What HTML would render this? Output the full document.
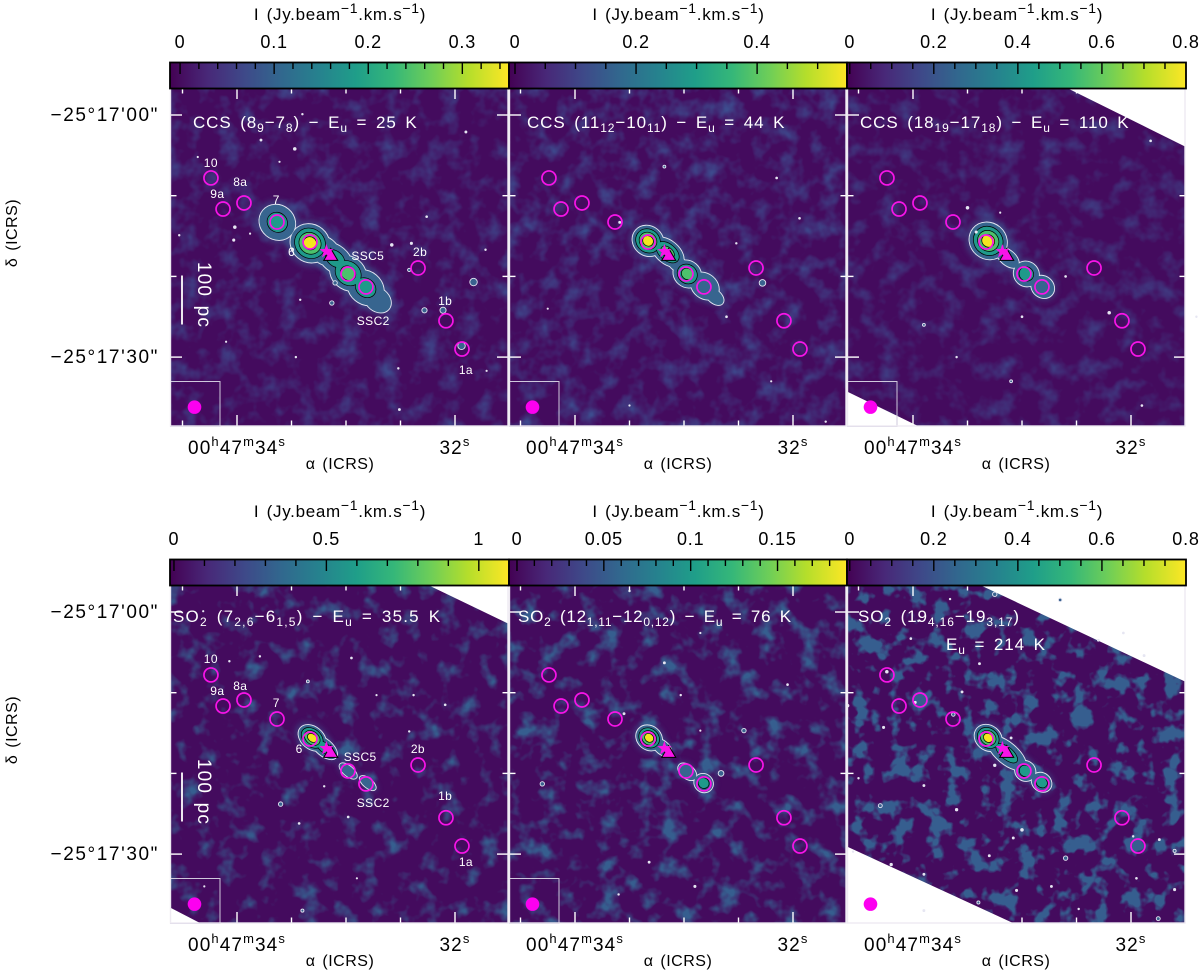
<!DOCTYPE html>
<html lang="en">
<head>
<meta charset="utf-8">
<title>CCS and SO2 integrated intensity maps</title>
<style>
html,body{margin:0;padding:0;background:#fff}
svg{display:block}
text{font-family:"Liberation Sans",sans-serif}
</style>
</head>
<body>
<svg id="figure" xmlns="http://www.w3.org/2000/svg" width="1200" height="970" viewBox="0 0 1200 970">
<defs id="defs">
<linearGradient id="viridis" x1="0" x2="1" y1="0" y2="0">
<stop offset="0" stop-color="#440154"/><stop offset=".11" stop-color="#482878"/><stop offset=".22" stop-color="#3e4989"/><stop offset=".33" stop-color="#31688e"/><stop offset=".44" stop-color="#26828e"/><stop offset=".55" stop-color="#1f9e89"/><stop offset=".66" stop-color="#35b779"/><stop offset=".77" stop-color="#6ece58"/><stop offset=".88" stop-color="#b5de2b"/><stop offset="1" stop-color="#fde725"/>
</linearGradient>
<filter id="halo" x="-50%" y="-50%" width="200%" height="200%"><feGaussianBlur stdDeviation="3"/></filter>
</defs>
<g id="maps"></g>
<g id="overlay"></g>

<g fill="#fff" font-size="17" letter-spacing="0.9" word-spacing="3">
<text x="193" y="128">CCS (8<tspan dy="4" font-size="12">9</tspan><tspan dy="-4">−7</tspan><tspan dy="4" font-size="12">8</tspan><tspan dy="-4">) − E</tspan><tspan dy="4" font-size="12">u</tspan><tspan dy="-4"> = 25 K</tspan></text>
<text x="527" y="128">CCS (11<tspan dy="4" font-size="12">12</tspan><tspan dy="-4">−10</tspan><tspan dy="4" font-size="12">11</tspan><tspan dy="-4">) − E</tspan><tspan dy="4" font-size="12">u</tspan><tspan dy="-4"> = 44 K</tspan></text>
<text x="860" y="128">CCS (18<tspan dy="4" font-size="12">19</tspan><tspan dy="-4">−17</tspan><tspan dy="4" font-size="12">18</tspan><tspan dy="-4">) − E</tspan><tspan dy="4" font-size="12">u</tspan><tspan dy="-4"> = 110 K</tspan></text>
<text x="173" y="622" letter-spacing="1.2">SO<tspan dy="4" font-size="12">2</tspan><tspan dy="-4"> (7</tspan><tspan dy="4" font-size="12">2,6</tspan><tspan dy="-4">−6</tspan><tspan dy="4" font-size="12">1,5</tspan><tspan dy="-4">) − E</tspan><tspan dy="4" font-size="12">u</tspan><tspan dy="-4"> = 35.5 K</tspan></text>
<text x="518" y="622" letter-spacing="0.75">SO<tspan dy="4" font-size="12">2</tspan><tspan dy="-4"> (12</tspan><tspan dy="4" font-size="12">1,11</tspan><tspan dy="-4">−12</tspan><tspan dy="4" font-size="12">0,12</tspan><tspan dy="-4">) − E</tspan><tspan dy="4" font-size="12">u</tspan><tspan dy="-4"> = 76 K</tspan></text>
<text x="858" y="622">SO<tspan dy="4" font-size="12">2</tspan><tspan dy="-4"> (19</tspan><tspan dy="4" font-size="12">4,16</tspan><tspan dy="-4">−19</tspan><tspan dy="4" font-size="12">3,17</tspan><tspan dy="-4">)</tspan></text>
<text x="946" y="650">E<tspan dy="4" font-size="12">u</tspan><tspan dy="-4"> = 214 K</tspan></text>
</g>
</svg>

<script>
// ---- colour-bar data ----
const barMin = [-0.0107, -0.0099, -0.0065, -0.013, -0.0046, -0.0065];
const barMax = [0.3496, 0.5485, 0.8, 1.099, 0.19, 0.8];
const barMajor = [[0, 0.1, 0.2, 0.3], [0, 0.2, 0.4], [0, 0.2, 0.4, 0.6, 0.8], [0, 0.5, 1], [0, 0.05, 0.1, 0.15], [0, 0.2, 0.4, 0.6, 0.8]];
const barMajorLabels = [['0', '0.1', '0.2', '0.3'], ['0', '0.2', '0.4'], ['0', '0.2', '0.4', '0.6', '0.8'], ['0', '0.5', '1'], ['0', '0.05', '0.1', '0.15'], ['0', '0.2', '0.4', '0.6', '0.8']];
const barMinorStep = [0.02, 0.05, 0.05, 0.1, 0.01, 0.05];

// ---- sky axes ----
const raMajor = [34, 32];
const raMinor = [34.5, 33.5, 33, 32.5];
const decMajor = [0, 30];
const decMinor = [10, 20];

// ---- source catalogue (RA seconds past 00h47m, Dec arcsec past -25d17m) ----
const sourceNames = ['10', '9a', '8a', '7', '6', 'SSC5', 'SSC2', '2b', '1b', '1a'];
const sourceRa = [34.239, 34.128, 33.936, 33.633, 33.33, 32.982, 32.817, 32.339, 32.083, 31.936];
const sourceDec = [7.8, 11.65, 10.9, 13.26, 15.74, 19.7, 21.3, 18.96, 25.5, 29.0];
const labelRaTop = [34.24, 34.18, 33.97, 33.64, 33.5, 32.8, 32.75, 32.32, 32.09, 31.9];
const labelDecTop = [6.44, 10.29, 8.8, 11.03, 17.47, 17.97, 26.02, 17.47, 23.54, 32.09];
const labelRaBottom = [34.24, 34.18, 33.97, 33.64, 33.43, 32.87, 32.75, 32.34, 32.09, 31.9];
const labelDecBottom = [6.3, 10.29, 9.67, 11.77, 17.47, 18.46, 24.16, 17.47, 23.3, 31.47];
const starRa = 33.18;
const starDec = 16.9;
const triangleRa = 33.14;
const triangleDec = 17.4;

// ---- emission clumps per panel: [RA s, Dec ", major ", minor ", peak contour level] ----
const clumpsCcs8 = [[33.63, 13.3, 2.3, 2.1, 1], [33.33, 15.9, 2.5, 2.3, 3], [33.2, 16.8, 2.2, 1.6, 0], [33.1, 17.8, 2.4, 1.6, 1], [32.98, 19.6, 2.4, 2.0, 2], [32.82, 21.4, 2.4, 2.0, 1], [32.71, 22.9, 1.8, 1.4, 0]];
const clumpsCcs11 = [[33.33, 15.6, 2.0, 1.8, 3], [33.15, 17.0, 2.3, 1.4, 2], [32.97, 19.7, 1.8, 1.6, 2], [32.81, 21.2, 1.9, 1.5, 0], [32.72, 22.5, 1.3, 0.8, 0], [33.06, 18.4, 1.6, 0.9, 0]];
const clumpsCcs18 = [[33.31, 15.6, 2.4, 2.2, 3], [33.13, 17.7, 1.6, 0.9, 0], [32.96, 19.7, 1.6, 1.5, 1], [32.81, 21.3, 1.5, 1.3, 0]];
const clumpsSo27 = [[33.31, 15.6, 1.9, 1.35, 3], [33.2, 16.8, 1.9, 1.0, 1], [32.98, 19.7, 1.3, 0.6, 0], [32.8, 21.2, 1.2, 0.55, 0]];
const clumpsSo212 = [[33.32, 15.6, 1.7, 1.45, 3], [33.2, 16.8, 1.3, 0.8, 0], [32.97, 19.8, 1.3, 0.8, 0], [32.82, 21.2, 1.2, 1.1, 1]];
const clumpsSo219 = [[33.31, 15.6, 1.8, 1.5, 3], [33.14, 17.5, 2.9, 1.3, 1], [32.97, 19.7, 1.3, 1.2, 1], [32.82, 21.1, 1.3, 1.1, 1]];

// ---- small isolated contours per panel: [RA s, Dec ", size] ----
const specksCcs8 = [[33.4, -0.1, 0.7], [33.78, 3.1, 0.9], [33.47, 4.2, 1.2], [33.61, 5.8, 0.6], [34.36, 5.2, 0.6], [31.9, 2.1, 0.9], [32.26, 12.6, 0.8], [34.53, 14.9, 0.7], [34.02, 13.9, 1.2], [34.03, 15.5, 1], [33.88, 14.7, 0.6], [33.49, 16.7, 1], [32.58, 16.1, 1.2], [32.4, 15.9, 1], [31.72, 16.7, 0.7], [33.1, 20.8, 2], [33.13, 23.3, 2], [33.42, 22.9, 0.7], [34.1, 28.1, 0.6], [33.46, 30, 0.7], [32.52, 31.4, 0.7], [32.51, 36.5, 0.9], [31.71, 31.7, 0.6], [31.83, 20.7, 3.4], [32.28, 24.2, 2.4], [32.11, 24.2, 2.8], [31.94, 28.6, 3.4], [32.42, 19.2, 1.5]];
const specksCcs11 = [[33.18, 6.4, 1.3], [32.15, 7.8, 0.8], [32.61, 25, 0.8], [32.28, 20.8, 3], [33.59, 13.3, 0.9], [31.94, 12.8, 0.8], [32.52, 15.9, 0.7], [34.25, 24, 0.6], [33.5, 36, 0.6], [31.7, 38, 0.7], [32.2, 33, 0.6]];
const specksCcs18 = [[33.5, 11.5, 1.2], [33.2, 12.1, 0.6], [32.6, 20, 0.8], [33.9, 26, 1.3], [33.1, 33, 1.3], [33.0, 25, 0.8], [32.2, 24.5, 1.2], [31.9, 36, 0.8], [33.6, 30, 0.7], [31.4, 25, 0.7], [33.42, 14.5, 1], [31.82, 3.2, 0.8]];
const specksSo27 = [[34.31, -0.1, 0.6], [34.07, 6.1, 0.7], [33.79, 5.5, 0.7], [33.35, 8.6, 1.3], [32.95, 5.7, 0.8], [32.72, 10.3, 0.6], [32.38, 10.3, 0.7], [32.09, 11.5, 0.8], [33.2, 21.6, 0.7], [33.6, 23.8, 2], [33.43, 26.2, 0.8], [32.98, 25.4, 0.8], [32.42, 14.8, 0.7], [33.4, 37, 1.4], [32.9, 33, 0.6], [34.3, 34, 0.6]];
const specksSo212 = [[33.5, -2.6, 0.7], [32.85, 2.6, 0.6], [33.18, 6.3, 0.9], [33.03, 10.3, 0.7], [33.55, 12.6, 0.9], [32.85, 14.7, 0.6], [32.45, 14.7, 2], [32.66, 20.0, 2.6], [34.3, 21.3, 2], [33.32, 31, 0.9], [32.9, 34, 1], [33.6, 35, 0.7], [32.05, 9, 0.8]];
const specksSo219 = [[33.25, -2.2, 2], [32.65, -1.5, 1.6], [33.66, -1.6, 0.7], [33.95, 1.1, 0.7], [34.02, 3.3, 0.8], [32.3, 3.5, 0.8], [32.07, 2.6, 0.8], [31.88, 5.4, 0.9], [34.24, 7.4, 1.2], [33.39, 6.4, 0.9], [33.98, 11.2, 1], [34.6, 11.6, 1.2], [33.63, 12.7, 1.6], [34.27, 14.3, 1], [33.1, 15.6, 0.9], [33.55, 9.9, 0.9], [34.3, 24, 1.8], [33.9, 21.5, 0.9], [34.5, 20.6, 0.7], [33.25, 19, 1.1], [33.6, 24.5, 1.1], [33.0, 27, 1.2], [33.08, 28, 0.9], [32.73, 34, 0.9], [32.6, 30.5, 2], [34.55, 29.7, 0.7], [34.2, 31.3, 1.1], [33.9, 32.5, 0.9], [33.3, 30.2, 0.9], [33.05, 34.5, 1], [31.98, 27.8, 0.7], [31.74, 28.2, 0.9], [31.6, 29.6, 1.4], [31.95, 33, 0.8], [31.75, 38, 1.8], [31.6, 34.4, 1], [32.48, 36.8, 0.7], [33.4, 36, 1.4], [33.9, 37, 0.9]];

// ---- panel furniture ----
const hasBeamBox = [true, true, true, true, true, false];
const beamRa = 34.39;
const beamDec = 36.2;

// ---- background emission texture parameters ----
const cloudSeed = [4, 9, 15, 22, 31, 40];
const cloudFreq = [0.05, 0.05, 0.05, 0.05, 0.05, 0.055];
const cloudGain = [2, 2.2, 1.8, 3, 3.5, 6.5];
const cloudCut = [0.46, 0.44, 0.46, 0.52, 0.49, 0.51];
const panelNames = ['ccs-8-7', 'ccs-11-10', 'ccs-18-17', 'so2-7-6', 'so2-12-12', 'so2-19-19'];
const panelClumps = [clumpsCcs8, clumpsCcs11, clumpsCcs18, clumpsSo27, clumpsSo212, clumpsSo219];
const panelSpecks = [specksCcs8, specksCcs11, specksCcs18, specksSo27, specksSo212, specksSo219];

// ---- layout ----
const colShift = [0, 338, 676];
const rowShift = [0, 497];
const levelFill = ['#37658f', '#1f9a8a', '#4cc26c', '#f4e61e'];
const SVGNS = 'http://www.w3.org/2000/svg';
const mapsLayer = document.getElementById('maps');
const overlayLayer = document.getElementById('overlay');
const defsEl = document.getElementById('defs');

function xOf(ra, col) { return 237 + (34 - ra) * 109 + colShift[col]; }
function yOf(dec, row) { return 115 + dec * 8.07 + rowShift[row]; }
function barX(v, p, left, right) { return left + (v - barMin[p]) / (barMax[p] - barMin[p]) * (right - left); }
function make(tag, attrs, parent) {
  const el = document.createElementNS(SVGNS, tag);
  for (const k in attrs) el.setAttribute(k, attrs[k]);
  parent.appendChild(el);
  return el;
}
function label(x, y, html, size, anchor, parent) {
  const el = make('text', { x: x, y: y, 'font-size': size, 'text-anchor': anchor, fill: '#000' }, parent);
  el.innerHTML = html;
  return el;
}

for (let p = 0; p < 6; p++) {
  const col = p % 3;
  const row = p < 3 ? 0 : 1;
  const dx = colShift[col];
  const dy = rowShift[row];
  const left = [171, 510, 848][col];
  const right = [508, 846, 1185][col];
  const top = 88 + dy;
  const bottom = 426 + dy;

  const panel = make('g', {}, mapsLayer);
  
  

  // background
  const bg = make('rect', { x: left, y: top, width: right - left, height: bottom - top, fill: '#440b5e' }, panel);
  
  

  // diffuse cloud texture
  const cloudColor = p >= 3 ? '0 0 0 0 0.21  0 0 0 0 0.37  0 0 0 0 0.56' : '0 0 0 0 0.24  0 0 0 0 0.30  0 0 0 0 0.56';
  const filt = make('filter', { id: 'cloud' + p, x: 0, y: 0, width: 1, height: 1, 'color-interpolation-filters': 'sRGB' }, defsEl);
  filt.innerHTML = '<feTurbulence type="fractalNoise" baseFrequency="' + cloudFreq[p] + '" numOctaves="3" seed="' + cloudSeed[p] + '"/>' +
    '<feColorMatrix type="matrix" values="' + cloudColor + '  ' + cloudGain[p] + ' 0 0 0 ' + (-cloudGain[p] * cloudCut[p]) + '"/>';
  const cloud = make('rect', { x: left, y: top, width: right - left, height: bottom - top, fill: '#000', filter: 'url(#cloud' + p + ')' }, panel);
  
  

  // unobserved sky
  const masks = [];
  if (p === 2) { masks.push('1067,88 1186,147 1186,88', '848,392 848,427 920,427'); }
  if (p === 3) { masks.push('428,585 509,624 509,585', '171,908 171,923 200,923'); }
  if (p === 5) { masks.push('980,585 1186,682 1186,585', '848,847 848,923 1013,923'); }
  masks.forEach(function (pts) {
    const m = make('polygon', { points: pts, fill: '#fff' }, panel);
    
    
  });

  // emission clumps from the panel's clump table
  const clumps = panelClumps[p];
  const drawLevel = function (level, parent, extra, scaleBoost) {
    clumps.forEach(function (c) {
      if (c[4] < level) return;
      const s = (1 - 0.9 * level / (c[4] + 1)) * scaleBoost;
      const cx = xOf(c[0], col);
      const cy = yOf(c[1], row);
      const a = { cx: cx, cy: cy, rx: c[2] * 8.07 * s, ry: c[3] * 8.07 * s, transform: 'rotate(40 ' + cx + ' ' + cy + ')' };
      for (const k in extra) a[k] = extra[k];
      const e = make('ellipse', a, parent);
      
      
    });
  };
  drawLevel(0, panel, { fill: '#3b5a90', opacity: 0.55, filter: 'url(#halo)' }, 1.25);
  drawLevel(0, panel, { fill: 'none', stroke: '#e6e6f2', 'stroke-width': 1.8 }, 1);
  drawLevel(0, panel, { fill: levelFill[0] }, 1);
  for (let lev = 1; lev <= 3; lev++) {
    drawLevel(lev, panel, { fill: 'none', stroke: '#000', 'stroke-width': 1.4 }, 1);
    drawLevel(lev, panel, { fill: levelFill[lev] }, 1);
  }

  // isolated small contours
  panelSpecks[p].forEach(function (s) {
    const sp = make('circle', { cx: xOf(s[0], col), cy: yOf(s[1], row), r: s[2] * 1.1, fill: s[2] < 1.3 ? '#e6e6f2' : '#39628f', stroke: '#e6e6f2', 'stroke-width': 0.9 }, panel);
    
    
  });

  // source circles
  sourceNames.forEach(function (name, i) {
    const c = make('circle', { cx: xOf(sourceRa[i], col), cy: yOf(sourceDec[i], row), r: 7, fill: 'none', stroke: '#f814e8', 'stroke-width': 1.7 }, panel);
    
    
  });

  // star + triangle markers
  const sx = xOf(starRa, col);
  const sy = yOf(starDec, row);
  const tx = xOf(triangleRa, col);
  const ty = yOf(triangleDec, row);
  const tri = make('polygon', { points: (tx) + ',' + (ty - 7) + ' ' + (tx + 7) + ',' + (ty + 5) + ' ' + (tx - 7) + ',' + (ty + 5), fill: '#f814e8', stroke: '#000', 'stroke-width': 1 }, panel);
  
  
  let starPts = '';
  for (let k = 0; k < 10; k++) {
    const rad = k % 2 ? 3 : 7.5;
    const ang = -Math.PI / 2 + k * Math.PI / 5;
    starPts += (sx + rad * Math.cos(ang)) + ',' + (sy + rad * Math.sin(ang)) + ' ';
  }
  const star = make('polygon', { points: starPts, fill: '#f814e8' }, panel);
  
  

  // beam
  if (hasBeamBox[p]) {
    const box = make('rect', { x: left - 0.5, y: 381.5 + dy, width: 49.5, height: 45, fill: 'none', stroke: '#cfc8dc', 'stroke-width': 1 }, panel);
    
    
  }
  const beam = make('circle', { cx: xOf(beamRa, col), cy: yOf(beamDec, row), r: 6.8, fill: '#fc00f0' }, panel);
  
  

  // source name labels on the left-hand panels
  if (col === 0) {
    const lr = row === 0 ? labelRaTop : labelRaBottom;
    const ld = row === 0 ? labelDecTop : labelDecBottom;
    sourceNames.forEach(function (name, i) {
      const t = label(xOf(lr[i], col), yOf(ld[i], row), name, 12, 'middle', panel);
      t.setAttribute('fill', '#fff');
      t.setAttribute('letter-spacing', '0.4');
      
      
    });
    const bar = make('line', { x1: 182, x2: 182, y1: 275.5 + dy, y2: 324.5 + dy, stroke: '#fff', 'stroke-width': 1.8 }, panel);
    
    
    const sc = label(0, 0, '100 pc', 19, 'middle', panel);
    sc.setAttribute('fill', '#fff');
    sc.setAttribute('letter-spacing', '1.2');
    sc.setAttribute('word-spacing', '2');
    sc.setAttribute('transform', 'translate(198 ' + (295 + dy) + ') rotate(90)');
    
    
  }

  // white sky-axis ticks and frame
  const frame = make('g', { stroke: '#fff', fill: 'none' }, overlayLayer);
  
  
  const tickX = function (ra, len) {
    const x = xOf(ra, col);
    make('line', { x1: x, x2: x, y1: top, y2: top + len, 'stroke-width': 1.4 }, frame);
    make('line', { x1: x, x2: x, y1: bottom, y2: bottom - len, 'stroke-width': 1.4 }, frame);
  };
  raMajor.forEach(function (v) { tickX(v, 11); });
  raMinor.forEach(function (v) { tickX(v, 5.5); });
  const tickY = function (dec, len) {
    const y = yOf(dec, row);
    make('line', { x1: left - 1, x2: left + len, y1: y, y2: y, 'stroke-width': 1.4 }, frame);
    make('line', { x1: right, x2: right - len, y1: y, y2: y, 'stroke-width': 1.4 }, frame);
  };
  decMajor.forEach(function (v) { tickY(v, 11); });
  decMinor.forEach(function (v) { tickY(v, 5.5); });
  make('rect', { x: left - 0.5, y: top, width: right - left + 0.5, height: bottom - top, 'stroke-width': 1.4, stroke: '#eeeaf2' }, frame);

  // colour bar
  const barLeft = [170, 509, 847][col];
  const barRight = [509, 847, 1186][col];
  const cb = make('g', {}, overlayLayer);
  
  
  const cbRect = make('rect', { x: barLeft, y: 62.5 + dy, width: barRight - barLeft, height: 26, fill: 'url(#viridis)', stroke: '#000', 'stroke-width': 1.8 }, cb);
  
  
  const n = Math.round(barMax[p] / barMinorStep[p]);
  for (let i = 0; i <= n; i++) {
    const v = i * barMinorStep[p];
    const x = barX(v, p, barLeft, barRight);
    if (x > barRight - 1) continue;
    const isMajor = barMajor[p].some(function (m) { return Math.abs(m - v) < 1e-6; });
    const tk = make('line', { x1: x, x2: x, y1: 63 + dy, y2: 63 + dy + (isMajor ? 11 : 6), stroke: '#000', 'stroke-width': 1.4 }, cb);
    
    
  }
  barMajor[p].forEach(function (v, i) {
    const t = label(barX(v, p, barLeft, barRight), 48 + dy, barMajorLabels[p][i], 18, 'middle', cb);
    t.setAttribute('letter-spacing', '0.8');
    
    
  });
  const cbTitle = label((barLeft + barRight) / 2 + 0.5, 20 + dy, 'I (Jy.beam<tspan dy="-7" font-size="14">−1</tspan><tspan dy="7">.km.s</tspan><tspan dy="-7" font-size="14">−1</tspan><tspan dy="7">)</tspan>', 17, 'middle', cb);
  cbTitle.setAttribute('letter-spacing', '0.7');
  cbTitle.setAttribute('word-spacing', '2');
  
  

  // RA labels
  const ra34 = label(237 + dx, 454 + dy, '00<tspan dy="-8" font-size="13">h</tspan><tspan dy="8">47</tspan><tspan dy="-8" font-size="13">m</tspan><tspan dy="8">34</tspan><tspan dy="-8" font-size="13">s</tspan>', 19, 'middle', overlayLayer);
  ra34.setAttribute('letter-spacing', '1.1');
  
  
  const ra32 = label(455 + dx, 454 + dy, '32<tspan dy="-8" font-size="13">s</tspan>', 19, 'middle', overlayLayer);
  ra32.setAttribute('letter-spacing', '1.1');
  
  
  const raTitle = label(340 + dx, 469 + dy, 'α (ICRS)', 16, 'middle', overlayLayer);
  raTitle.setAttribute('letter-spacing', '0.5');
  raTitle.setAttribute('word-spacing', '2');
  
  

  // Dec labels
  if (col === 0) {
    const d0 = label(159, 121 + dy, "−25°17'00\"", 19, 'end', overlayLayer);
    d0.setAttribute('letter-spacing', '1.6');
    
    
    const d30 = label(159, 363 + dy, "−25°17'30\"", 19, 'end', overlayLayer);
    d30.setAttribute('letter-spacing', '1.6');
    
    
    const dTitle = label(0, 0, 'δ (ICRS)', 16, 'middle', overlayLayer);
    dTitle.setAttribute('letter-spacing', '0.5');
    dTitle.setAttribute('word-spacing', '2');
    dTitle.setAttribute('transform', 'translate(17 ' + (233 + dy) + ') rotate(-90)');
    
    
  }
}
</script>
</body>
</html>
